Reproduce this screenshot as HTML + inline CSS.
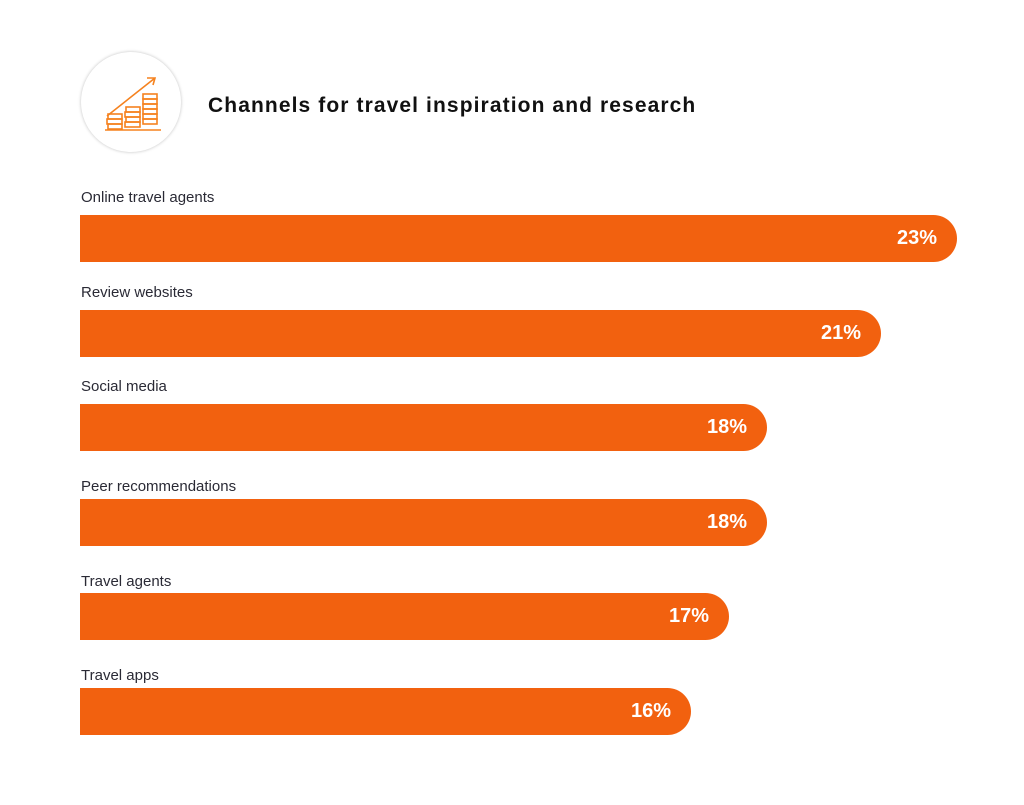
<!DOCTYPE html>
<html><head><style>
body{margin:0;width:1024px;height:805px;background:#fff;font-family:"Liberation Sans",sans-serif;position:relative;overflow:hidden}
.c{position:absolute;left:81px;top:52px;width:100px;height:100px;border-radius:50%;background:#fff;box-shadow:0 0 3px rgba(0,0,0,.25)}
.t{position:absolute;left:208px;top:94px;font-size:21px;font-weight:bold;color:#111;letter-spacing:1.1px}
.l{position:absolute;left:81px;font-size:15px;color:#2a2a35}
.b{position:absolute;left:80px;height:47px;background:#f2610f;border-radius:0 24px 24px 0}
.b span{position:absolute;right:20px;top:12px;color:#fff;font-weight:bold;font-size:20px}
</style></head><body>
<div class="c"><svg width="100" height="100" viewBox="0 0 100 100" fill="none" stroke="#f5821f" stroke-width="1.6">
<path d="M26 64 L74 26 M66 26 L74 26 L72 33"/>
<rect x="27" y="62" width="14" height="5"/><rect x="26" y="67" width="15" height="5"/><rect x="27" y="72" width="14" height="5"/>
<rect x="45" y="55" width="14" height="5"/><rect x="44" y="60" width="15" height="5"/><rect x="45" y="65" width="14" height="5"/><rect x="44" y="70" width="15" height="5"/>
<rect x="62" y="42" width="14" height="5"/><rect x="62" y="47" width="14" height="5"/><rect x="62" y="52" width="14" height="5"/><rect x="62" y="57" width="14" height="5"/><rect x="62" y="62" width="14" height="5"/><rect x="62" y="67" width="14" height="5"/>
<path d="M24 78 L80 78"/></svg></div>
<div class="t">Channels for travel inspiration and research</div>
<div class="l" style="top:189px">Online travel agents</div>
<div class="b" style="top:215px;width:877px"><span>23%</span></div>
<div class="l" style="top:284px">Review websites</div>
<div class="b" style="top:310px;width:801px"><span>21%</span></div>
<div class="l" style="top:378px">Social media</div>
<div class="b" style="top:404px;width:687px"><span>18%</span></div>
<div class="l" style="top:478px">Peer recommendations</div>
<div class="b" style="top:499px;width:687px"><span>18%</span></div>
<div class="l" style="top:573px">Travel agents</div>
<div class="b" style="top:593px;width:649px"><span>17%</span></div>
<div class="l" style="top:667px">Travel apps</div>
<div class="b" style="top:688px;width:611px"><span>16%</span></div>
</body></html>
